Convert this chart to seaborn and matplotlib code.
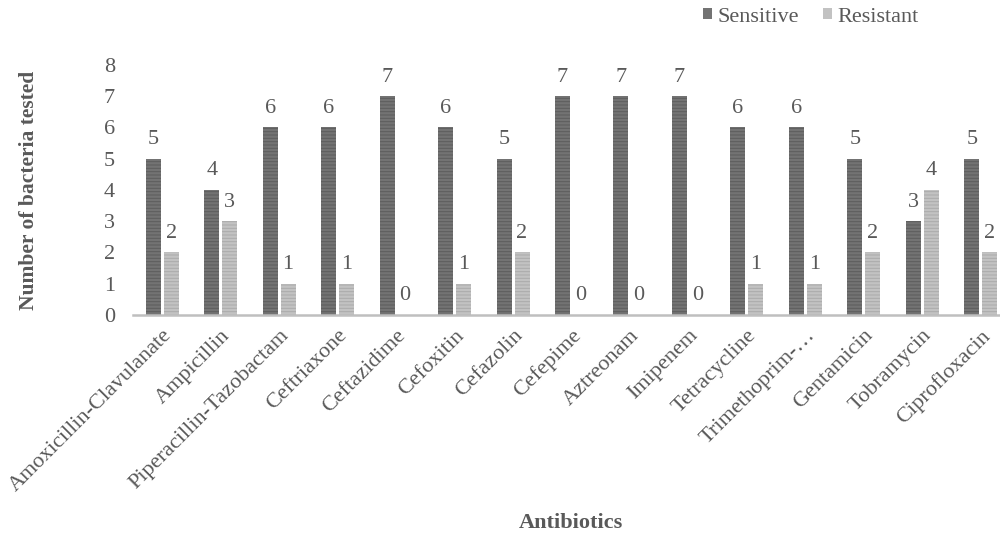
import pandas as pd
import matplotlib
matplotlib.use('Agg')
import matplotlib.pyplot as plt
from matplotlib.patches import Patch
import seaborn as sns

antibiotics = ['Amoxicillin-Clavulanate', 'Ampicillin', 'Piperacillin-Tazobactam', 'Ceftriaxone',
               'Ceftazidime', 'Cefoxitin', 'Cefazolin', 'Cefepime', 'Aztreonam', 'Imipenem',
               'Tetracycline', 'Trimethoprim-…', 'Gentamicin', 'Tobramycin', 'Ciprofloxacin']
sensitive = [5, 4, 6, 6, 7, 6, 5, 7, 7, 7, 6, 6, 5, 3, 5]
resistant = [2, 3, 1, 1, 0, 1, 2, 0, 0, 0, 1, 1, 2, 4, 2]
groups = ['Sensitive', 'Resistant']

df = pd.DataFrame({
    'antibiotic': antibiotics * 2,
    'status': ['Sensitive'] * len(antibiotics) + ['Resistant'] * len(antibiotics),
    'count': sensitive + resistant,
})

sns.set_theme(style='white')
plt.rcParams['font.family'] = ['Liberation Serif', 'DejaVu Serif']
plt.rcParams['hatch.linewidth'] = 0.7
txt = '#595959'
face = {'Sensitive': '#737373', 'Resistant': '#c2c2c2'}
stripe = {'Sensitive': '#5c5c5c', 'Resistant': '#aaaaaa'}

fig = plt.figure(figsize=(10, 5.37), dpi=100)
ax = fig.add_axes([0.133, 0.4134, 0.877, 0.4656])

sns.barplot(data=df, x='antibiotic', y='count', hue='status', hue_order=groups,
            palette=face, width=0.6, legend=False, ax=ax)

bw = 0.256
offs = {'Sensitive': -0.154, 'Resistant': 0.154}
for cont, g in zip(ax.containers, groups):
    for i, p in enumerate(cont.patches):
        p.set_width(bw)
        p.set_x(i + offs[g] - bw / 2)
        p.set_facecolor(face[g])
        p.set_edgecolor(stripe[g])
        p.set_linewidth(0)
        p.set_hatch('-----')
    ax.bar_label(cont, padding=7, fontsize=16, color=txt)

ax.set_xlim(-0.5, len(antibiotics) - 0.5)
ax.set_ylim(0, 8)
ax.set_yticks(range(0, 9))
for s in ['top', 'right', 'left']:
    ax.spines[s].set_visible(False)
ax.spines['bottom'].set_color('#bfbfbf')
ax.spines['bottom'].set_linewidth(1.8)
ax.tick_params(axis='both', length=0, labelsize=16, colors=txt)
ax.tick_params(axis='y', pad=13)
ax.tick_params(axis='x', pad=8)
plt.setp(ax.get_xticklabels(), rotation=45, ha='right', rotation_mode='anchor')

ax.set_xlabel('')
ax.set_ylabel('Number of bacteria tested', fontsize=15.5, fontweight='bold', color=txt)
ax.yaxis.set_label_coords(-0.107, 0.5)
fig.text(0.571, 1 - 523 / 537, 'Antibiotics', ha='center', va='center',
         fontsize=16, fontweight='bold', color=txt)

handles = [Patch(facecolor=face[g], edgecolor='none') for g in groups]
fig.legend(handles, groups, loc='center left', bbox_to_anchor=(0.703, 1 - 17 / 537),
           ncol=2, frameon=False, handlelength=0.42, handleheight=0.42,
           handletextpad=0.25, columnspacing=1.05, borderpad=0, borderaxespad=0,
           fontsize=16, labelcolor=txt)

fig.savefig('out.png', dpi=100)
